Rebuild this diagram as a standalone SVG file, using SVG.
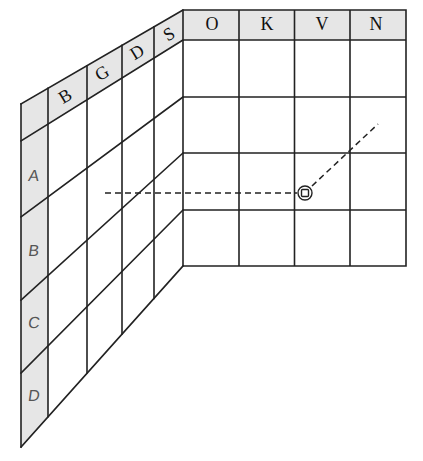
<svg xmlns="http://www.w3.org/2000/svg" width="423" height="461" viewBox="0 0 423 461">
<style>
.g{stroke:#222;stroke-width:1.6;fill:none;stroke-linecap:square}
.hd{fill:#e6e6e6;stroke:none}
.t{font-family:"Liberation Serif",serif;font-size:18px;fill:#111;text-anchor:middle;dominant-baseline:central}
.r{font-family:"Liberation Sans",sans-serif;font-size:16px;fill:#555;text-anchor:middle;dominant-baseline:central}
.d{stroke:#222;stroke-width:1.5;fill:none;stroke-dasharray:6,4}
</style>
<rect width="423" height="461" fill="#fff"/>
<g id="left-wall">
<polygon class="hd" points="21,104 183,10 183,40 21,141"/>
<polygon class="hd" points="21,104 48,88.3 48,416.8 21,447"/>
<path class="g" d="M21,104 L183,10 M21,141 L183,40 M21,217 L183,97 M21,300 L183,153 M21,373 L183,210 M21,447 L183,266"/>
<path class="g" d="M21,104 V447 M48,88.3 V416.8 M87,65.7 V373 M122,45.4 V334 M154,26.8 V298.4"/>
<text class="t" transform="translate(65,96) rotate(-31)">B</text>
<text class="t" transform="translate(102,73) rotate(-31)">G</text>
<text class="t" transform="translate(137,52) rotate(-31)">D</text>
<text class="t" transform="translate(169,34) rotate(-31)">S</text>
<text class="r" transform="translate(34,175) skewX(-8)">A</text>
<text class="r" transform="translate(34,250) skewX(-8)">B</text>
<text class="r" transform="translate(34,322) skewX(-8)">C</text>
<text class="r" transform="translate(34,395) skewX(-8)">D</text>
</g>
<g id="right-wall">
<rect class="hd" x="183" y="10" width="223" height="30"/>
<path class="g" d="M183,10 H406 V266 H183 Z M183,40 H406 M183,97 H406 M183,153 H406 M183,210 H406 M239,10 V266 M294.5,10 V266 M350,10 V266"/>
<text class="t" x="212" y="24">O</text>
<text class="t" x="267" y="24">K</text>
<text class="t" x="322" y="24">V</text>
<text class="t" x="376" y="24">N</text>
</g>
<g id="connectors">
<path class="d" d="M105,193 H297"/>
<path class="d" d="M312,186 L378,124"/>
</g>
<g id="marker">
<circle cx="305" cy="193" r="7" fill="#fff" stroke="#222" stroke-width="1.4"/>
<rect x="301.5" y="189.5" width="7" height="7" rx="1" fill="none" stroke="#222" stroke-width="1.4"/>
</g>
</svg>
